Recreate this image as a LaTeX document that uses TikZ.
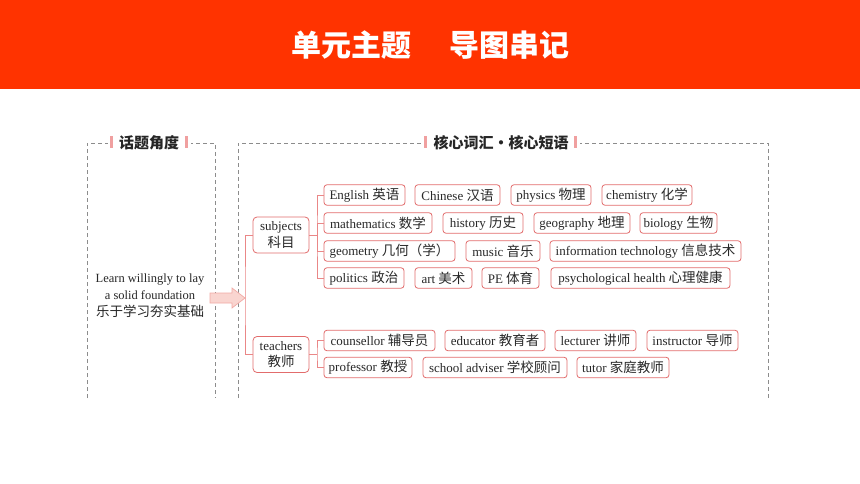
\documentclass[tikz,border=0pt]{standalone}
\usepackage{fontspec}
\setmainfont{Liberation Serif}
\newfontfamily\cjk{Noto Sans CJK SC}
\newcommand\zh[1]{{\cjk\fontsize{13.5}{16.5}\selectfont #1}}
\definecolor{hdr}{RGB}{255,51,0}
\definecolor{boxred}{RGB}{226,108,108}
\definecolor{connred}{RGB}{234,135,135}
\definecolor{pinkbar}{RGB}{240,160,160}
\definecolor{dashgray}{RGB}{140,140,140}
\definecolor{arrfill}{RGB}{249,213,208}
\definecolor{arrdraw}{RGB}{242,170,165}
\definecolor{txt}{RGB}{40,40,40}
\tikzset{
  leaf/.style={draw=boxred, line width=0.8pt, rounded corners=3pt, fill=white,
    minimum height=20.5, inner xsep=2pt, inner ysep=1pt, text=txt,
    font=\fontsize{13}{14}\selectfont},
  cat/.style={draw=boxred, line width=0.8pt, rounded corners=4pt, fill=white,
    minimum width=56, minimum height=36, inner sep=1pt, align=center, text=txt,
    font=\fontsize{13}{16.5}\selectfont},
  conn/.style={draw=connred, line width=0.9pt},
  dashbox/.style={draw=dashgray, line width=0.8pt, dash pattern=on 4pt off 3pt},
  boxtitle/.style={text=black!85, font=\cjk\bfseries\fontsize{15}{16}\selectfont, inner sep=0pt},
  pbar/.style={fill=pinkbar, draw=none},
}
\begin{document}
\begin{tikzpicture}[x=1pt,y=-1pt]
\useasboundingbox (0,0) rectangle (860,484);
\fill[white] (0,0) rectangle (860,484);
% header
\fill[hdr] (0,0) rectangle (860,89);
\node[text=white, font=\cjk\bfseries\fontsize{30}{32}\selectfont, inner sep=0pt] (title) at (430.5,45)
  {单元主题\hspace{38pt}导图串记};

% dashed boxes
\draw[dashbox] (87,398) -- (87,143) -- (215,143) -- (215,398);
\draw[dashbox] (238,398) -- (238,143) -- (768,143) -- (768,398);
% box titles
\fill[white] (108,133) rectangle (191,153);
\fill[pbar] (110,136) rectangle (113,148);
\fill[pbar] (185,136) rectangle (188,148);
\node[boxtitle] (lt) at (149,143) {话题角度};
\fill[white] (421,133) rectangle (580,153);
\fill[pbar] (424,136) rectangle (427,148);
\fill[pbar] (574,136) rectangle (577,148);
\node[boxtitle] (rt) at (501,143) {核心词汇·核心短语};

% left text
\node[align=center, text=txt, font=\fontsize{12.5}{17}\selectfont, inner sep=0pt] (topic) at (150,296)
  {Learn willingly to lay\\a solid foundation\\\zh{乐于学习夯实基础}};

% block arrow
\filldraw[fill=arrfill, draw=arrdraw, line width=0.7pt]
  (210,293) -- (232,293) -- (232,288) -- (245,298) -- (232,308) -- (232,303) -- (210,303) -- cycle;

% category nodes
\node[cat] (subj) at (281,235) {subjects\\\zh{科目}};
\node[cat] (teach) at (281,354.5) {teachers\\\zh{教师}};

% subject leaves
\node[leaf, minimum width=81] (en) at (364.5,195) {English \zh{英语}};
\node[leaf, minimum width=85] (chn) at (457.5,195) {Chinese \zh{汉语}};
\node[leaf, minimum width=80] (phy) at (551,195) {physics \zh{物理}};
\node[leaf, minimum width=90] (chem) at (647,195) {chemistry \zh{化学}};

\node[leaf, minimum width=108] (math) at (378,223) {mathematics \zh{数学}};
\node[leaf, minimum width=80] (hist) at (483,223) {history \zh{历史}};
\node[leaf, minimum width=96] (geog) at (582,223) {geography \zh{地理}};
\node[leaf, minimum width=77] (bio) at (678.5,223) {biology \zh{生物}};

\node[leaf, minimum width=131] (geom) at (389.5,251) {geometry \zh{几何（学）}};
\node[leaf, minimum width=74] (mus) at (503,251) {music \zh{音乐}};
\node[leaf, minimum width=191] (it) at (645.5,251) {information technology \zh{信息技术}};

\node[leaf, minimum width=80] (pol) at (364,278) {politics \zh{政治}};
\node[leaf, minimum width=57] (art) at (443.5,278) {art \zh{美术}};
\node[leaf, minimum width=57] (pe) at (510.5,278) {PE \zh{体育}};
\node[leaf, minimum width=179] (psy) at (640.5,278) {psychological health \zh{心理健康}};

% teacher leaves
\node[leaf, minimum width=111] (cou) at (379.5,340.5) {counsellor \zh{辅导员}};
\node[leaf, minimum width=100] (edu) at (495,340.5) {educator \zh{教育者}};
\node[leaf, minimum width=81] (lec) at (595.5,340.5) {lecturer \zh{讲师}};
\node[leaf, minimum width=91] (ins) at (692.5,340.5) {instructor \zh{导师}};

\node[leaf, minimum width=88] (prof) at (368,367.5) {professor \zh{教授}};
\node[leaf, minimum width=144] (sch) at (495,367.5) {school adviser \zh{学校顾问}};
\node[leaf, minimum width=92] (tut) at (623,367.5) {tutor \zh{家庭教师}};

% connectors
\coordinate (mb) at (245,297);
\coordinate (sb) at (317,235);
\coordinate (tb) at (317,354.5);
\draw[conn] (subj.west) -| (mb) |- (teach.west);
\draw[conn] (subj.east) -- (sb);
\draw[conn] (en.west) -| (sb) |- (pol.west);
\draw[conn] (math.west) -| (sb);
\draw[conn] (geom.west) -| (sb);
\draw[conn] (teach.east) -- (tb);
\draw[conn] (cou.west) -| (tb) |- (prof.west);
\end{tikzpicture}
\end{document}
